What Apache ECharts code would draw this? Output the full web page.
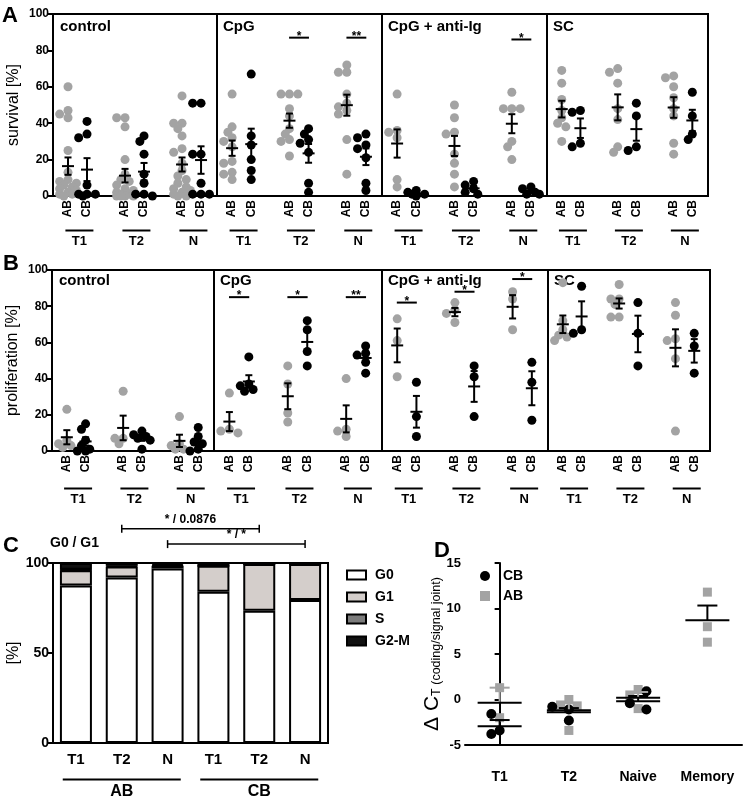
<!DOCTYPE html>
<html><head><meta charset="utf-8">
<script src="https://cdn.jsdelivr.net/npm/echarts@6/dist/echarts.min.js"></script>
<style>html,body{margin:0;padding:0;background:#fff}#c{width:746px;height:802px}</style>
</head><body><div id="c"></div>
<script>
// ================= DATA =================
const groupNames = ['T1', 'T2', 'N'];
const cellNames = ['AB', 'CB'];
const stimNames = ['control', 'CpG', 'CpG + anti-Ig', 'SC'];
const yTicksAB = [0, 20, 40, 60, 80, 100];

// Panel A: survival [%]  (each: [T1, T2, N])
const survControlAB = [[60,47,45,43,25,13,9,8,7,6,5,4,3,2,1,1,0],[43,43,38,20,12,9,8,6,4,3,2,1,1,0,0,0,0],[55,40,40,37,33,26,24,18,14,11,9,7,5,4,3,2,1,0,0]];
const survControlCB = [[41,34,32,6,1,1,1,0],[33,30,23,12,7,1,1,0],[51,51,23,23,7,1,1,1]];
const survCpgAB = [[56,38,35,32,30,27,19,18,13,12,9],[56,56,56,48,44,37,34,31,30,22],[72,68,68,56,51,49,47,45,31,12]];
const survCpgCB = [[67,33,28,20,14,9],[37,34,31,29,24,7,2],[34,32,28,26,21,7,3]];
const survAntiAB = [[56,36,35,32,9,5],[50,43,35,34,23,18,12,5],[57,48,48,48,30,27,20]];
const survAntiCB = [[3,2,1,1,0],[8,6,4,2,1],[5,4,2,1,1]];
const survScAB = [[69,62,53,47,43,40,38,30],[70,68,62,48,42,27,24],[66,65,60,54,48,44,29,23]];
const survScCB = [[47,46,29,27],[51,44,27,25],[57,44,34,31]];
// significance: [stimulus, group, y, label]
const survSig = [[1,1,87,'*'],[1,2,87,'**'],[2,2,86,'*']];

// Panel B: proliferation [%]
const prolControlAB = [[23,6,4,3,2],[33,7,7,4],[19,4,3,1,1]];
const prolControlCB = [[15,12,6,3,1,0,0],[11,9,8,7,6,1],[13,8,5,4,1,0]];
const prolCpgAB = [[32,12,11,10],[47,37,21,16],[40,12,11,8]];
const prolCpgCB = [[52,37,36,34,33],[72,67,55,47],[58,54,53,49,43]];
const prolAntiAB = [[73,61,41],[82,78,76,71],[88,84,67]];
const prolAntiCB = [[38,19,8],[47,41,19],[49,38,17]];
const prolScAB = [[93,72,67,64,63,61],[92,84,84,81,74,74],[82,75,62,61,51,11]];
const prolScCB = [[91,67,65],[82,65,47],[65,58,43]];
const prolSig = [[1,0,85,'*'],[1,1,85,'*'],[1,2,85,'**'],[2,0,82,'*'],[2,1,88,'*'],[2,2,95,'*']];

// Panel C: cell cycle [%]
const cycleCats = ['T1','T2','N','T1','T2','N'];
const cycleGroups = ['AB','CB'];
const cycleG0 = [87.5, 92, 97, 84, 73.5, 79.5];
const cycleG1 = [8.5, 6, 1.5, 14.5, 26, 20];
const cycleS = [0.3, 0.5, 0.5, 0, 0, 0];
const cycleG2M = [3.7, 1.5, 1, 1.5, 0.5, 0.5];
const cycleBrackets = [[1, 4, 119, '* / 0.0876'], [2, 5, 110.5, '* / *']];
const cycleTicks = [0, 50, 100];

// Panel D: delta CT
const dCats = ['T1','T2','Naive','Memory'];
const dCB = [[-1.6,-3.8,-3.4],[-0.8,-1.1,-2.3],[0.9,-0.4,-1.1],[]];
const dAB = [[1.3,-2.0],[0,-0.6,-0.7,-3.4],[1.1,0.5,-1.0],[11.8,8.0,6.3]];

// ================= LAYOUT / STYLE =================
const FONT = '"Liberation Sans", Arial, Helvetica, sans-serif';
const GRAY = '#a3a3a3', BLACK = '#000';
const xMin = 0.21, xMax = 8.84;
const cellPos = [[1, 2], [4, 5], [7, 8]];
const rowTop = [14, 270], rowH = [182, 181];
const panelLeft = [[53, 217, 382, 547], [52, 214, 382, 548]];
const panelW = [[164, 165, 165, 161], [162, 168, 166, 162]];
const groupOffset = [33, 36];
const rowNames = ['survival [%]', 'proliferation [%]'];
const rowData = [
  [[survControlAB, survControlCB], [survCpgAB, survCpgCB], [survAntiAB, survAntiCB], [survScAB, survScCB]],
  [[prolControlAB, prolControlCB], [prolCpgAB, prolCpgCB], [prolAntiAB, prolAntiCB], [prolScAB, prolScCB]]
];
const rowSig = [survSig, prolSig];

function meanSem(a) {
  const n = a.length; const m = a.reduce((s, v) => s + v, 0) / n;
  if (n < 2) return [m, 0];
  const sd = Math.sqrt(a.reduce((s, v) => s + (v - m) * (v - m), 0) / (n - 1));
  return [m, sd / Math.sqrt(n)];
}
// beeswarm layout of points around a category centre (layout only)
function swarm(vals, center, sx, sy, d, step, maxK, others) {
  const placed = others ? others.slice() : [];
  const out = [];
  const order = vals.map((v, i) => i).sort((a, b) => vals[b] - vals[a]);
  for (const i of order) {
    const v = vals[i];
    let best = 0, bestScore = -1;
    for (let j = 0; j <= 2 * maxK; j++) {
      const k = j === 0 ? 0 : (j % 2 ? -(j + 1) / 2 : j / 2);
      const off = k * step;
      let minD = Infinity;
      for (const p of placed) minD = Math.min(minD, Math.hypot((p[0] - center - off) * sx, (p[1] - v) * sy));
      if (minD >= d) { best = off; bestScore = Infinity; break; }
      if (minD > bestScore) { bestScore = minD; best = off; }
    }
    const pt = [center + best, v];
    placed.push(pt); out.push(pt);
  }
  return out;
}
function errRender(halfMean, halfCap, colors) {
  return function (params, api) {
    const x = api.value(0), m = api.value(1), lo = api.value(2), hi = api.value(3), ci = api.value(4);
    const pm = api.coord([x, m]), pl = api.coord([x, lo]), ph = api.coord([x, hi]);
    const st = { stroke: colors[ci], lineWidth: 2 };
    const ch = [
      { type: 'line', shape: { x1: pm[0], y1: ph[1], x2: pm[0], y2: pl[1] }, style: st },
      { type: 'line', shape: { x1: pm[0] - halfCap, y1: ph[1], x2: pm[0] + halfCap, y2: ph[1] }, style: st }
    ];
    if (lo < m) ch.push({ type: 'line', shape: { x1: pm[0] - halfCap, y1: pl[1], x2: pm[0] + halfCap, y2: pl[1] }, style: st });
    ch.push({ type: 'line', shape: { x1: pm[0] - halfMean, y1: pm[1], x2: pm[0] + halfMean, y2: pm[1] }, style: { stroke: BLACK, lineWidth: 2 } });
    return { type: 'group', children: ch };
  };
}
function sigRender(labels, fontSize, tickLen, textDy) {
  return function (params, api) {
    const p1 = api.coord([api.value(0), api.value(2)]);
    const p2 = api.coord([api.value(1), api.value(2)]);
    const ch = [{ type: 'line', shape: { x1: p1[0], y1: p1[1], x2: p2[0], y2: p2[1] }, style: { stroke: BLACK, lineWidth: tickLen ? 1.5 : 2 } }];
    if (tickLen) {
      ch.push({ type: 'line', shape: { x1: p1[0], y1: p1[1] - tickLen, x2: p1[0], y2: p1[1] + tickLen }, style: { stroke: BLACK, lineWidth: 1.5 } });
      ch.push({ type: 'line', shape: { x1: p2[0], y1: p2[1] - tickLen, x2: p2[0], y2: p2[1] + tickLen }, style: { stroke: BLACK, lineWidth: 1.5 } });
    }
    ch.push({ type: 'text', style: { text: labels[params.dataIndex], x: (p1[0] + p2[0]) / 2, y: p1[1] + textDy, align: 'center', verticalAlign: 'bottom', fontSize: fontSize, fontWeight: 'bold', fontFamily: FONT, fill: BLACK } });
    return { type: 'group', children: ch };
  };
}

const grid = [], xAxis = [], yAxis = [], series = [], graphic = [];
const boldLbl = (size) => ({ fontSize: size, fontWeight: 'bold', color: BLACK, fontFamily: FONT });

for (let r = 0; r < 2; r++) {
  for (let p = 0; p < 4; p++) {
    const g = r * 4 + p;
    const W = panelW[r][p];
    grid.push({ left: panelLeft[r][p], top: rowTop[r], width: W, height: rowH[r], show: true, borderColor: BLACK, borderWidth: 2, backgroundColor: 'transparent' });
    xAxis.push({
      type: 'value', gridIndex: g, min: xMin, max: xMax,
      axisLine: { show: false }, axisTick: { show: false }, splitLine: { show: false },
      axisLabel: Object.assign(boldLbl(12), { customValues: [1, 2, 4, 5, 7, 8], rotate: 90, margin: 4,
        formatter: v => cellNames[(Math.round(v) - 1) % 3] })
    });
    xAxis.push({
      type: 'value', gridIndex: g, min: xMin, max: xMax, position: 'bottom', offset: groupOffset[r],
      axisLine: { show: false }, axisTick: { show: false }, splitLine: { show: false },
      axisLabel: { customValues: [1.6, 4.6, 7.6], margin: 0,
        formatter: v => '{bar|}\n{t|' + groupNames[Math.round((v - 1.6) / 3)] + '}',
        rich: { bar: { width: 28, height: 2, lineHeight: 3, backgroundColor: BLACK },
                t: Object.assign(boldLbl(13), { lineHeight: 15, padding: [3, 0, 0, 0] }) } }
    });
    if (p === 0) {
      yAxis.push({
        type: 'value', gridIndex: g, min: 0, max: 100, interval: 20,
        axisLine: { show: true, lineStyle: { color: BLACK, width: 2 } },
        axisTick: { show: true, length: 5, lineStyle: { color: BLACK, width: 2 } },
        splitLine: { show: false },
        axisLabel: Object.assign(boldLbl(12), { margin: 4, customValues: yTicksAB }),
        name: rowNames[r], nameLocation: 'middle', nameGap: 31,
        nameTextStyle: { fontSize: 16, color: BLACK, fontFamily: FONT }
      });
    } else {
      yAxis.push({ type: 'value', gridIndex: g, min: 0, max: 100, axisLine: { show: false }, axisTick: { show: false }, axisLabel: { show: false }, splitLine: { show: false } });
    }
    const [abArr, cbArr] = rowData[r][p];
    const sx = W / (xMax - xMin), sy = rowH[r] / 100;
    const abPts = [], cbPts = [], errData = [];
    for (let gi = 0; gi < 3; gi++) {
      abPts.push(...swarm(abArr[gi], cellPos[gi][0], sx, sy, 6, 0.22, 2));
      cbPts.push(...swarm(cbArr[gi], cellPos[gi][1], sx, sy, 6, 0.22, 2));
      [abArr[gi], cbArr[gi]].forEach((arr, ci) => {
        const [m, s] = meanSem(arr);
        errData.push([cellPos[gi][ci], m, Math.max(0, m - s), m + s, ci]);
      });
    }
    series.push({ name: 'r' + r + 'p' + p + 'AB', type: 'scatter', xAxisIndex: 2 * g, yAxisIndex: g, data: abPts, symbolSize: 9, itemStyle: { color: GRAY, opacity: 1 }, silent: true, z: 2 });
    series.push({ name: 'r' + r + 'p' + p + 'CB', type: 'scatter', xAxisIndex: 2 * g, yAxisIndex: g, data: cbPts, symbolSize: 9, itemStyle: { color: BLACK, opacity: 1 }, silent: true, z: 3 });
    series.push({ type: 'custom', xAxisIndex: 2 * g, yAxisIndex: g, data: errData, encode: { x: 0, y: 1 }, renderItem: errRender(6, 3.5, [BLACK, BLACK]), silent: true, z: 4 });
    const sigs = rowSig[r].filter(s => s[0] === p);
    if (sigs.length) {
      series.push({ type: 'custom', xAxisIndex: 2 * g, yAxisIndex: g,
        data: sigs.map(s => [cellPos[s[1]][0] - 0.02, cellPos[s[1]][1] + 0.02, s[2]]), encode: { x: 0, y: 2 },
        renderItem: sigRender(sigs.map(s => s[3]), 12, 0, 5), silent: true, z: 5 });
    }
    graphic.push({ type: 'text', left: panelLeft[r][p] + (p === 0 ? 7 : 6), top: rowTop[r] + (r ? 3 : 5),
      style: { text: stimNames[p], font: 'bold 15px ' + FONT, fill: BLACK } });
  }
}

// ---------- Panel C ----------
grid.push({ left: 53, top: 563, width: 275, height: 180, show: true, borderColor: BLACK, borderWidth: 2, backgroundColor: 'transparent' });
xAxis.push({ type: 'category', gridIndex: 8, data: cycleCats,
  axisLine: { lineStyle: { color: BLACK, width: 2 } },
  axisTick: { alignWithLabel: true, length: 5, lineStyle: { color: BLACK, width: 2 } },
  axisLabel: Object.assign(boldLbl(15), { margin: 9 }) });
xAxis.push({ type: 'category', gridIndex: 8, data: cycleGroups, position: 'bottom', offset: 35,
  axisLine: { show: false }, axisTick: { show: false },
  axisLabel: { margin: 0, formatter: v => '{bar|}\n{t|' + v + '}',
    rich: { bar: { width: 118, height: 2, lineHeight: 3, backgroundColor: BLACK },
            t: Object.assign(boldLbl(16), { lineHeight: 18, padding: [3, 0, 0, 0] }) } } });
yAxis.push({ type: 'value', gridIndex: 8, min: 0, max: 100, interval: 50,
  axisLine: { show: true, lineStyle: { color: BLACK, width: 2 } },
  axisTick: { show: true, length: 5, lineStyle: { color: BLACK, width: 2 } },
  splitLine: { show: false },
  axisLabel: Object.assign(boldLbl(14), { margin: 4, customValues: cycleTicks }),
  name: '[%]', nameLocation: 'middle', nameGap: 29, nameTextStyle: { fontSize: 16, color: BLACK, fontFamily: FONT } });
[['G0', cycleG0, '#ffffff'], ['G1', cycleG1, '#d4cecb'], ['S', cycleS, '#7c7c7c'], ['G2-M', cycleG2M, '#111111']].forEach(([nm, arr, col]) => {
  series.push({ name: nm, type: 'bar', stack: 'cycle', xAxisIndex: 16, yAxisIndex: 8, data: arr, barWidth: 32,
    itemStyle: { color: col, borderColor: BLACK, borderWidth: 2 }, silent: true });
});
series.push({ type: 'custom', xAxisIndex: 16, yAxisIndex: 8, clip: false,
  data: cycleBrackets.map(b => [b[0], b[1], b[2]]), encode: { x: 0, y: 2 },
  renderItem: sigRender(cycleBrackets.map(b => b[3]), 12, 4, -3), silent: true, z: 5 });

// ---------- Panel D ----------
grid.push({ left: 465, top: 563, width: 277, height: 182, show: false });
xAxis.push({ type: 'value', gridIndex: 9, min: -0.5, max: 3.5,
  axisLine: { show: true, onZero: false, lineStyle: { color: BLACK, width: 2 } },
  axisTick: { show: false }, splitLine: { show: false },
  axisLabel: Object.assign(boldLbl(14), { customValues: [0, 1, 2, 3], margin: 25, formatter: v => dCats[Math.round(v)] }) });
yAxis.push({ type: 'value', gridIndex: 9, min: -5, max: 15, interval: 5,
  axisLine: { show: true, lineStyle: { color: BLACK, width: 2 } },
  axisTick: { show: true, length: 5, lineStyle: { color: BLACK, width: 2 } },
  splitLine: { show: false },
  axisLabel: Object.assign(boldLbl(13), { margin: 4 }),
  name: '{d|Δ C}{s|T (coding/signal joint)}', nameLocation: 'middle', nameGap: 8,
  nameTextStyle: { rich: { d: { fontSize: 21, color: BLACK, fontFamily: FONT, verticalAlign: 'bottom' },
                           s: { fontSize: 12.5, color: BLACK, fontFamily: FONT, verticalAlign: 'bottom' } } } });
{
  const sx = 277 / 4, sy = 182 / 20;
  const abPts = [], cbPts = [], errD = [];
  for (let i = 0; i < dCats.length; i++) {
    const ab = swarm(dAB[i], i, sx, sy, 8, 0.12, 2);
    abPts.push(...ab);
    cbPts.push(...swarm(dCB[i], i, sx, sy, 8, 0.12, 2, ab));
    if (dCB[i].length) { const [m, s] = meanSem(dCB[i]); errD.push([i, m, m, m + s, 1]); }
    if (dAB[i].length) { const [m, s] = meanSem(dAB[i]); errD.push([i, m, m, m + s, i === 3 ? 1 : 0]); }
  }
  series.push({ name: 'AB', type: 'scatter', xAxisIndex: 18, yAxisIndex: 9, data: abPts, symbol: 'rect', symbolSize: 9, itemStyle: { color: GRAY, opacity: 1 }, silent: true, z: 2 });
  series.push({ name: 'CB', type: 'scatter', xAxisIndex: 18, yAxisIndex: 9, data: cbPts, symbol: 'circle', symbolSize: 10, itemStyle: { color: BLACK, opacity: 1 }, silent: true, z: 3 });
  series.push({ type: 'custom', xAxisIndex: 18, yAxisIndex: 9, data: errD, encode: { x: 0, y: 1 }, renderItem: errRender(22, 10, [GRAY, BLACK]), silent: true, z: 4 });
}

// ---------- texts ----------
[['A', 2, 5], ['B', 3, 253], ['C', 3, 535], ['D', 434, 540]].forEach(([t, l, tp]) => {
  graphic.push({ type: 'text', left: l, top: tp, style: { text: t, font: 'bold 22px ' + FONT, fill: BLACK } });
});
graphic.push({ type: 'text', left: 50, top: 536, style: { text: 'G0 / G1', font: 'bold 14px ' + FONT, fill: BLACK } });

const option = {
  animation: false,
  backgroundColor: '#fff',
  textStyle: { fontFamily: FONT },
  grid, xAxis, yAxis, series, graphic,
  legend: [
    { data: ['G0', 'G1', 'S', 'G2-M'], orient: 'vertical', left: 346, top: 568, icon: 'rect', itemWidth: 19, itemHeight: 9, itemGap: 8, padding: 0,
      textStyle: { fontSize: 14, fontWeight: 'bold', color: BLACK, fontFamily: FONT, padding: [0, 0, 0, 4] }, selectedMode: false },
    { data: ['CB', 'AB'], orient: 'vertical', left: 480, top: 569, itemWidth: 10, itemHeight: 10, itemGap: 6, padding: 0,
      textStyle: { fontSize: 14, fontWeight: 'bold', color: BLACK, fontFamily: FONT, padding: [0, 0, 0, 8] }, selectedMode: false }
  ]
};
const chart = echarts.init(document.getElementById('c'), null, { renderer: 'canvas' });
chart.setOption(option);
</script></body></html>
